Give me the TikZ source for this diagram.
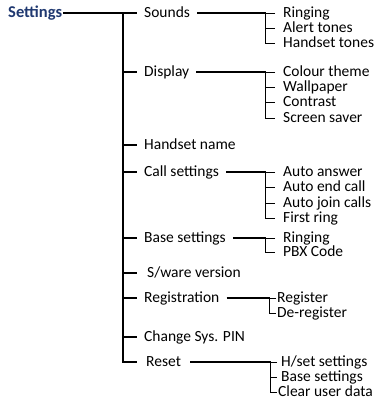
\documentclass[tikz,border=0pt]{standalone}
\usepackage{fontspec}
\setmainfont{Carlito}
\usepackage{tikz}

\definecolor{navy}{RGB}{31,56,112}

\tikzset{
  item/.style={anchor=west, inner ysep=0pt, inner xsep=#1, text height=9.7pt, text depth=0pt,
    font=\fontsize{15.5}{15}\selectfont},
  item/.default=7pt,
  head/.style={item=1pt, font=\bfseries\fontsize{16.5}{15}\selectfont, text=navy},
  stem/.style={line width=1.6pt},
  trunk/.style={line width=1.1pt},
  twig/.style={line width=0.7pt},
}

\begin{document}
\begin{tikzpicture}[x=1pt,y=-1pt]
\useasboundingbox (0,0) rectangle (377,401);

% Text Node
\node[head] (settings) at (7,13) {Settings};
% Text Node
\node[item] (sounds) at (137,13) {Sounds};
\node[item] (display) at (137,72) {Display};
\node[item] (hname) at (137,145) {Handset name};
\node[item] (callset) at (137,172) {Call settings};
\node[item] (baseset) at (137,238) {Base settings};
\node[item=10pt] (sware) at (137,273) {S/ware version};
\node[item] (regist) at (137,298) {Registration};
\node[item] (sysp) at (137,337) {Change Sys. PIN};
\node[item=9pt] (reset) at (137,362) {Reset};

% Text Node
\node[item=8pt] (sring) at (275,13) {Ringing};
\node[item=8pt] (alert) at (275,28) {Alert tones};
\node[item=8pt] (htones) at (275,43) {Handset tones};
\node[item=8pt] (colour) at (275,72) {Colour theme};
\node[item=8pt] (wallp) at (275,87) {Wallpaper};
\node[item=8pt] (contr) at (275,102) {Contrast};
\node[item=8pt] (saver) at (275,118) {Screen saver};
\node[item=8pt] (aans) at (275,172) {Auto answer};
\node[item=8pt] (aend) at (275,187) {Auto end call};
\node[item=8pt] (ajoin) at (275,203) {Auto join calls};
\node[item=8pt] (fring) at (275,218) {First ring};
\node[item=8pt] (bring) at (275,238) {Ringing};
\node[item=8pt] (pbx) at (275,252) {PBX Code};
\node[item=1pt] (reg) at (276,298) {Register};
\node[item=1pt] (dereg) at (276,313) {De-register};
\node[item=4pt] (hsset) at (277,362) {H/set settings};
\node[item=4pt] (bsset) at (277,377) {Base settings};
\node[item=1pt] (clear) at (277,392) {Clear user data};

% trunk
\coordinate (tr) at (123,13);
\draw[stem] (settings.east) -- (sounds.west);
\draw[trunk] (tr) |- (reset.west);
\foreach \n in {display,hname,callset,baseset,sware,regist,sysp}
  \draw[stem] (tr |- \n.west) -- (\n.west);
\draw[stem] ([xshift=-14pt]reset.west) -- (reset.west);

% sub menus
\coordinate (bs) at (265.5,0);
\coordinate (br) at (269.5,0);
\coordinate (bx) at (270.5,0);
\draw[stem] (sounds.east) -- (bs |- sounds.east);
\draw[twig] (sring.west) -| (bs |- htones.west) -- (htones.west);
\draw[twig] (bs |- alert.west) -- (alert.west);

\draw[stem] (display.east) -- (bs |- display.east);
\draw[twig] (colour.west) -| (bs |- saver.west) -- (saver.west);
\foreach \n in {wallp,contr}
  \draw[twig] (bs |- \n.west) -- (\n.west);

\draw[stem] (callset.east) -- (bs |- callset.east);
\draw[twig] (aans.west) -| (bs |- fring.west) -- (fring.west);
\foreach \n in {aend,ajoin}
  \draw[twig] (bs |- \n.west) -- (\n.west);

\draw[stem] (baseset.east) -- (bs |- baseset.east);
\draw[twig] (bring.west) -| (bs |- pbx.west) -- (pbx.west);

\draw[stem] (regist.east) -- (br |- regist.east);
\draw[twig] (reg.west) -| (br |- dereg.west) -- (dereg.west);

\draw[stem] (reset.east) -- (bx |- reset.east);
\draw[twig] (hsset.west) -| (bx |- clear.west) -- (clear.west);
\draw[twig] (bx |- bsset.west) -- (bsset.west);

\end{tikzpicture}
\end{document}
